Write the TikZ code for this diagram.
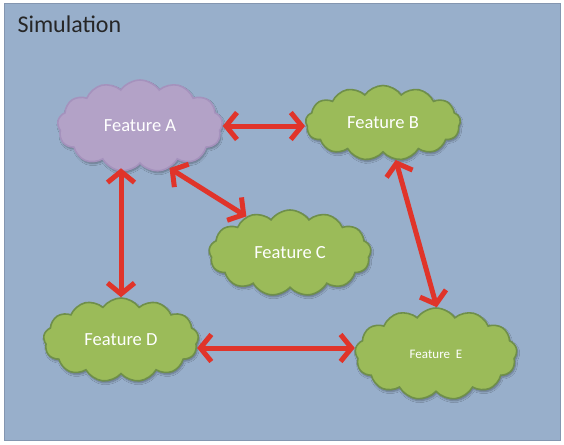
\documentclass[tikz,border=0pt]{standalone}
\usepackage{fontspec}
\setmainfont{Carlito}
\usetikzlibrary{shapes.symbols,arrows.meta,shadows.blur}
\definecolor{panelbg}{HTML}{98AFCB}
\definecolor{panelline}{HTML}{8496B0}
\definecolor{leaf}{HTML}{9BBB59}
\definecolor{leafline}{HTML}{6F8F4A}
\definecolor{lilac}{HTML}{B3A2C7}
\definecolor{lilacline}{HTML}{A592BD}
\definecolor{linkred}{HTML}{E0342A}
\tikzset{
  feature/.style={cloud, cloud puffs=13, cloud puff arc=110, aspect=1.9,
    inner sep=0pt, text=white, font=\fontsize{18.5}{22}\selectfont,
    line width=1.6pt, blur shadow={shadow xshift=1pt, shadow yshift=-2pt, shadow blur steps=6, shadow opacity=35}},
  greenfeature/.style={feature, fill=leaf, draw=leafline},
  purplefeature/.style={feature, fill=lilac, draw=lilacline},
  barb/.tip={Straight Barb[length=11pt,width=27pt,line width=5pt]},
  link/.style={draw=linkred, line width=5pt, barb-barb}
}
\begin{document}
\begin{tikzpicture}[x=1pt,y=-1pt]
\useasboundingbox (0,0) rectangle (564,444);
\fill[white] (0,0) rectangle (564,444);
\node[draw=panelline, fill=panelbg, line width=1pt, minimum width=556pt, minimum height=436pt, inner sep=0pt] (panel) at (282,222) {};
\node[anchor=west, font=\fontsize{24}{28}\selectfont, text=black!85] (title) at (14,24) {Simulation};

\node[purplefeature, minimum width=165pt, minimum height=92pt] (a) at (140,126) {Feature A};
\node[greenfeature, minimum width=155pt, minimum height=75pt] (b) at (383,123) {Feature B};
\node[greenfeature, minimum width=162pt, minimum height=86pt] (c) at (290,253) {Feature C};
\node[greenfeature, minimum width=155pt, minimum height=84pt] (d) at (121,340) {Feature D};
\node[greenfeature, minimum width=162pt, minimum height=92pt, font=\fontsize{13}{16}\selectfont] (e) at (436,354) {Feature\ \ E};

\draw[link] (a.east) -- (a.east -| b.west);
\draw[link] (a.south -| d.north) ++(0,4) coordinate (aFoot) (aFoot) -- (d.north);
\draw[link] (a.-55) -- (c.140);
\draw[link] (b.-71) -- (e.89);
\draw[link] (d.-6) -- (d.-6 -| e.west);
\end{tikzpicture}
\end{document}
